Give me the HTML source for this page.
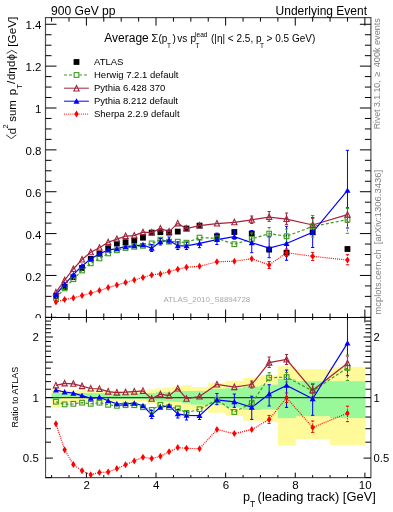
<!DOCTYPE html>
<html><head><meta charset="utf-8"><style>html,body{margin:0;padding:0;background:#fff;}svg{display:block;will-change:transform;}</style></head>
<body><svg width="393" height="512" viewBox="0 0 393 512">
<rect width="393" height="512" fill="#fff"/>
<rect x="51.59" y="388.20" width="9.20" height="19.40" fill="#fffa99"/>
<rect x="60.29" y="390.30" width="9.20" height="12.20" fill="#fffa99"/>
<rect x="69.00" y="390.30" width="9.20" height="12.20" fill="#fffa99"/>
<rect x="77.70" y="390.30" width="9.20" height="12.20" fill="#fffa99"/>
<rect x="86.40" y="390.50" width="9.20" height="11.50" fill="#fffa99"/>
<rect x="95.10" y="390.50" width="9.20" height="11.50" fill="#fffa99"/>
<rect x="103.81" y="390.70" width="9.20" height="10.80" fill="#fffa99"/>
<rect x="112.51" y="390.90" width="9.20" height="10.60" fill="#fffa99"/>
<rect x="121.21" y="390.90" width="9.20" height="10.60" fill="#fffa99"/>
<rect x="129.91" y="390.90" width="9.20" height="10.60" fill="#fffa99"/>
<rect x="138.62" y="390.90" width="9.20" height="10.60" fill="#fffa99"/>
<rect x="147.32" y="389.30" width="9.20" height="14.70" fill="#fffa99"/>
<rect x="156.02" y="388.40" width="9.20" height="16.50" fill="#fffa99"/>
<rect x="164.72" y="387.40" width="9.20" height="18.10" fill="#fffa99"/>
<rect x="173.43" y="386.50" width="9.20" height="22.20" fill="#fffa99"/>
<rect x="182.13" y="385.20" width="9.20" height="24.30" fill="#fffa99"/>
<rect x="190.83" y="387.10" width="17.91" height="23.20" fill="#fffa99"/>
<rect x="208.24" y="382.80" width="17.91" height="29.90" fill="#fffa99"/>
<rect x="225.64" y="380.70" width="17.91" height="35.30" fill="#fffa99"/>
<rect x="243.05" y="378.00" width="17.91" height="42.80" fill="#fffa99"/>
<rect x="260.45" y="375.30" width="17.90" height="46.80" fill="#fffa99"/>
<rect x="277.86" y="366.30" width="17.90" height="79.20" fill="#fffa99"/>
<rect x="295.26" y="369.30" width="35.31" height="69.80" fill="#fffa99"/>
<rect x="330.07" y="366.90" width="35.31" height="78.10" fill="#fffa99"/>
<rect x="51.59" y="392.90" width="9.20" height="6.10" fill="#99f899"/>
<rect x="60.29" y="392.90" width="9.20" height="4.90" fill="#99f899"/>
<rect x="69.00" y="393.00" width="9.20" height="4.80" fill="#99f899"/>
<rect x="77.70" y="393.00" width="9.20" height="4.80" fill="#99f899"/>
<rect x="86.40" y="393.20" width="9.20" height="5.30" fill="#99f899"/>
<rect x="95.10" y="393.20" width="9.20" height="5.30" fill="#99f899"/>
<rect x="103.81" y="393.40" width="9.20" height="5.40" fill="#99f899"/>
<rect x="112.51" y="393.70" width="9.20" height="5.30" fill="#99f899"/>
<rect x="121.21" y="393.70" width="9.20" height="5.30" fill="#99f899"/>
<rect x="129.91" y="393.70" width="9.20" height="5.30" fill="#99f899"/>
<rect x="138.62" y="393.70" width="9.20" height="5.30" fill="#99f899"/>
<rect x="147.32" y="393.10" width="9.20" height="7.40" fill="#99f899"/>
<rect x="156.02" y="392.20" width="9.20" height="8.60" fill="#99f899"/>
<rect x="164.72" y="392.20" width="9.20" height="9.30" fill="#99f899"/>
<rect x="173.43" y="391.20" width="9.20" height="10.80" fill="#99f899"/>
<rect x="182.13" y="391.00" width="9.20" height="12.40" fill="#99f899"/>
<rect x="190.83" y="391.00" width="17.91" height="13.70" fill="#99f899"/>
<rect x="208.24" y="388.70" width="17.91" height="16.00" fill="#99f899"/>
<rect x="225.64" y="388.20" width="17.91" height="19.20" fill="#99f899"/>
<rect x="243.05" y="386.60" width="17.91" height="23.40" fill="#99f899"/>
<rect x="260.45" y="384.70" width="17.90" height="24.80" fill="#99f899"/>
<rect x="277.86" y="379.00" width="17.90" height="39.10" fill="#99f899"/>
<rect x="295.26" y="381.20" width="35.31" height="35.00" fill="#99f899"/>
<rect x="330.07" y="381.20" width="35.31" height="36.90" fill="#99f899"/>
<line x1="45.5" y1="397.55" x2="370.9" y2="397.55" stroke="#000" stroke-opacity="0.7" stroke-width="1.2"/>
<g clip-path="url(#clipT)">
<rect x="53.04" y="293.00" width="5.8" height="5.8" fill="#000"/>
<rect x="61.74" y="284.00" width="5.8" height="5.8" fill="#000"/>
<rect x="70.45" y="274.30" width="5.8" height="5.8" fill="#000"/>
<rect x="79.15" y="265.10" width="5.8" height="5.8" fill="#000"/>
<rect x="87.85" y="256.00" width="5.8" height="5.8" fill="#000"/>
<rect x="96.55" y="250.90" width="5.8" height="5.8" fill="#000"/>
<rect x="105.26" y="245.40" width="5.8" height="5.8" fill="#000"/>
<rect x="113.96" y="240.70" width="5.8" height="5.8" fill="#000"/>
<rect x="122.66" y="239.30" width="5.8" height="5.8" fill="#000"/>
<rect x="131.36" y="237.80" width="5.8" height="5.8" fill="#000"/>
<rect x="140.07" y="234.80" width="5.8" height="5.8" fill="#000"/>
<rect x="148.77" y="229.70" width="5.8" height="5.8" fill="#000"/>
<rect x="157.47" y="229.30" width="5.8" height="5.8" fill="#000"/>
<rect x="166.17" y="229.70" width="5.8" height="5.8" fill="#000"/>
<rect x="174.88" y="228.70" width="5.8" height="5.8" fill="#000"/>
<rect x="183.58" y="225.60" width="5.8" height="5.8" fill="#000"/>
<rect x="196.63" y="222.70" width="5.8" height="5.8" fill="#000"/>
<rect x="214.04" y="233.40" width="5.8" height="5.8" fill="#000"/>
<rect x="231.44" y="229.10" width="5.8" height="5.8" fill="#000"/>
<rect x="248.85" y="230.70" width="5.8" height="5.8" fill="#000"/>
<rect x="266.25" y="246.70" width="5.8" height="5.8" fill="#000"/>
<rect x="283.66" y="249.80" width="5.8" height="5.8" fill="#000"/>
<rect x="309.77" y="229.40" width="5.8" height="5.8" fill="#000"/>
<rect x="344.58" y="246.10" width="5.8" height="5.8" fill="#000"/>
<polyline points="55.94,297.90 64.64,288.40 73.35,279.20 82.05,270.50 90.75,263.30 99.45,258.40 108.16,253.40 116.86,250.30 125.56,248.00 134.26,246.80 142.97,245.80 151.67,243.40 160.37,239.70 169.07,241.70 177.78,241.70 186.48,242.70 199.53,237.60 216.94,238.30 234.34,244.20 251.75,238.90 269.15,233.60 286.56,236.30 312.67,226.40 347.48,219.70" fill="none" stroke="#3d9b1f" stroke-width="1.2" stroke-dasharray="3,2"/>
<polyline points="55.94,292.40 64.64,280.20 73.35,269.00 82.05,259.50 90.75,252.30 99.45,247.70 108.16,242.20 116.86,239.10 125.56,236.10 134.26,235.60 142.97,232.20 151.67,232.60 160.37,228.50 169.07,231.60 177.78,223.40 186.48,228.50 199.53,225.60 216.94,223.60 234.34,222.30 251.75,219.80 269.15,217.10 286.56,219.10 312.67,225.00 347.48,214.70" fill="none" stroke="#a3243b" stroke-width="1.2"/>
<polyline points="55.94,294.50 64.64,284.30 73.35,274.70 82.05,266.00 90.75,258.90 99.45,253.80 108.16,250.10 116.86,248.70 125.56,246.70 134.26,245.80 142.97,244.80 151.67,248.20 160.37,241.70 169.07,240.30 177.78,245.80 186.48,245.80 199.53,243.40 216.94,239.60 234.34,236.60 251.75,242.70 269.15,248.10 286.56,243.50 312.67,232.30 347.48,190.40" fill="none" stroke="#0000ff" stroke-width="1.2"/>
<polyline points="55.94,302.00 64.64,299.60 73.35,297.90 82.05,295.50 90.75,293.10 99.45,290.60 108.16,287.60 116.86,285.10 125.56,282.50 134.26,280.00 142.97,277.40 151.67,274.90 160.37,273.90 169.07,271.70 177.78,269.20 186.48,267.20 199.53,266.30 216.94,261.80 234.34,261.20 251.75,258.80 269.15,264.90 286.56,252.70 312.67,256.30 347.48,260.10" fill="none" stroke="#ff0000" stroke-width="1.2" stroke-dasharray="1.0,1.1"/>
<line x1="151.67" y1="244.5" x2="151.67" y2="251.5" stroke="#0000ff" stroke-width="1.0"/><line x1="150.07" y1="244.5" x2="153.27" y2="244.5" stroke="#0000ff" stroke-width="1.0"/><line x1="150.07" y1="251.5" x2="153.27" y2="251.5" stroke="#0000ff" stroke-width="1.0"/><line x1="160.37" y1="238.5" x2="160.37" y2="245" stroke="#0000ff" stroke-width="1.0"/><line x1="158.77" y1="238.5" x2="161.97" y2="238.5" stroke="#0000ff" stroke-width="1.0"/><line x1="158.77" y1="245" x2="161.97" y2="245" stroke="#0000ff" stroke-width="1.0"/><line x1="169.07" y1="237" x2="169.07" y2="243.5" stroke="#0000ff" stroke-width="1.0"/><line x1="167.47" y1="237" x2="170.67" y2="237" stroke="#0000ff" stroke-width="1.0"/><line x1="167.47" y1="243.5" x2="170.67" y2="243.5" stroke="#0000ff" stroke-width="1.0"/><line x1="177.78" y1="242" x2="177.78" y2="249.5" stroke="#0000ff" stroke-width="1.0"/><line x1="176.18" y1="242" x2="179.38" y2="242" stroke="#0000ff" stroke-width="1.0"/><line x1="176.18" y1="249.5" x2="179.38" y2="249.5" stroke="#0000ff" stroke-width="1.0"/><line x1="186.48" y1="242" x2="186.48" y2="249.5" stroke="#0000ff" stroke-width="1.0"/><line x1="184.88" y1="242" x2="188.08" y2="242" stroke="#0000ff" stroke-width="1.0"/><line x1="184.88" y1="249.5" x2="188.08" y2="249.5" stroke="#0000ff" stroke-width="1.0"/><line x1="199.53" y1="239.7" x2="199.53" y2="247.7" stroke="#0000ff" stroke-width="1.0"/><line x1="197.93" y1="239.7" x2="201.13" y2="239.7" stroke="#0000ff" stroke-width="1.0"/><line x1="197.93" y1="247.7" x2="201.13" y2="247.7" stroke="#0000ff" stroke-width="1.0"/><line x1="216.94" y1="233.1" x2="216.94" y2="244.5" stroke="#0000ff" stroke-width="1.0"/><line x1="215.34" y1="233.1" x2="218.54" y2="233.1" stroke="#0000ff" stroke-width="1.0"/><line x1="215.34" y1="244.5" x2="218.54" y2="244.5" stroke="#0000ff" stroke-width="1.0"/><line x1="234.34" y1="230" x2="234.34" y2="239.2" stroke="#0000ff" stroke-width="1.0"/><line x1="232.74" y1="230" x2="235.94" y2="230" stroke="#0000ff" stroke-width="1.0"/><line x1="232.74" y1="239.2" x2="235.94" y2="239.2" stroke="#0000ff" stroke-width="1.0"/><line x1="251.75" y1="230.5" x2="251.75" y2="252.7" stroke="#0000ff" stroke-width="1.0"/><line x1="250.15" y1="230.5" x2="253.35" y2="230.5" stroke="#0000ff" stroke-width="1.0"/><line x1="250.15" y1="252.7" x2="253.35" y2="252.7" stroke="#0000ff" stroke-width="1.0"/><line x1="269.15" y1="236.6" x2="269.15" y2="257.7" stroke="#0000ff" stroke-width="1.0"/><line x1="267.55" y1="236.6" x2="270.75" y2="236.6" stroke="#0000ff" stroke-width="1.0"/><line x1="267.55" y1="257.7" x2="270.75" y2="257.7" stroke="#0000ff" stroke-width="1.0"/><line x1="286.56" y1="226.3" x2="286.56" y2="260.3" stroke="#0000ff" stroke-width="1.0"/><line x1="284.96" y1="226.3" x2="288.16" y2="226.3" stroke="#0000ff" stroke-width="1.0"/><line x1="284.96" y1="260.3" x2="288.16" y2="260.3" stroke="#0000ff" stroke-width="1.0"/><line x1="312.67" y1="217.6" x2="312.67" y2="247.5" stroke="#0000ff" stroke-width="1.0"/><line x1="311.06" y1="217.6" x2="314.27" y2="217.6" stroke="#0000ff" stroke-width="1.0"/><line x1="311.06" y1="247.5" x2="314.27" y2="247.5" stroke="#0000ff" stroke-width="1.0"/><line x1="347.48" y1="150.3" x2="347.48" y2="228.0" stroke="#0000ff" stroke-width="1.0"/><line x1="345.88" y1="150.3" x2="349.08" y2="150.3" stroke="#0000ff" stroke-width="1.0"/><line x1="345.88" y1="228.0" x2="349.08" y2="228.0" stroke="#0000ff" stroke-width="1.0"/><line x1="251.75" y1="216" x2="251.75" y2="223.5" stroke="#a3243b" stroke-width="1.0"/><line x1="250.15" y1="216" x2="253.35" y2="216" stroke="#a3243b" stroke-width="1.0"/><line x1="250.15" y1="223.5" x2="253.35" y2="223.5" stroke="#a3243b" stroke-width="1.0"/><line x1="269.15" y1="211.5" x2="269.15" y2="221.4" stroke="#a3243b" stroke-width="1.0"/><line x1="267.55" y1="211.5" x2="270.75" y2="211.5" stroke="#a3243b" stroke-width="1.0"/><line x1="267.55" y1="221.4" x2="270.75" y2="221.4" stroke="#a3243b" stroke-width="1.0"/><line x1="286.56" y1="213" x2="286.56" y2="224.4" stroke="#a3243b" stroke-width="1.0"/><line x1="284.96" y1="213" x2="288.16" y2="213" stroke="#a3243b" stroke-width="1.0"/><line x1="284.96" y1="224.4" x2="288.16" y2="224.4" stroke="#a3243b" stroke-width="1.0"/><line x1="312.67" y1="218.2" x2="312.67" y2="231.0" stroke="#a3243b" stroke-width="1.0"/><line x1="311.06" y1="218.2" x2="314.27" y2="218.2" stroke="#a3243b" stroke-width="1.0"/><line x1="311.06" y1="231.0" x2="314.27" y2="231.0" stroke="#a3243b" stroke-width="1.0"/><line x1="347.48" y1="207.5" x2="347.48" y2="222.5" stroke="#a3243b" stroke-width="1.0"/><line x1="345.88" y1="207.5" x2="349.08" y2="207.5" stroke="#a3243b" stroke-width="1.0"/><line x1="345.88" y1="222.5" x2="349.08" y2="222.5" stroke="#a3243b" stroke-width="1.0"/><line x1="251.75" y1="233" x2="251.75" y2="243" stroke="#3d9b1f" stroke-width="1.0" stroke-dasharray="2,1.5"/><line x1="250.15" y1="233" x2="253.35" y2="233" stroke="#3d9b1f" stroke-width="1.0"/><line x1="250.15" y1="243" x2="253.35" y2="243" stroke="#3d9b1f" stroke-width="1.0"/><line x1="269.15" y1="227.5" x2="269.15" y2="237.4" stroke="#3d9b1f" stroke-width="1.0" stroke-dasharray="2,1.5"/><line x1="267.55" y1="227.5" x2="270.75" y2="227.5" stroke="#3d9b1f" stroke-width="1.0"/><line x1="267.55" y1="237.4" x2="270.75" y2="237.4" stroke="#3d9b1f" stroke-width="1.0"/><line x1="286.56" y1="229" x2="286.56" y2="242.7" stroke="#3d9b1f" stroke-width="1.0" stroke-dasharray="2,1.5"/><line x1="284.96" y1="229" x2="288.16" y2="229" stroke="#3d9b1f" stroke-width="1.0"/><line x1="284.96" y1="242.7" x2="288.16" y2="242.7" stroke="#3d9b1f" stroke-width="1.0"/><line x1="312.67" y1="215.5" x2="312.67" y2="237.0" stroke="#3d9b1f" stroke-width="1.0" stroke-dasharray="2,1.5"/><line x1="311.06" y1="215.5" x2="314.27" y2="215.5" stroke="#3d9b1f" stroke-width="1.0"/><line x1="311.06" y1="237.0" x2="314.27" y2="237.0" stroke="#3d9b1f" stroke-width="1.0"/><line x1="347.48" y1="208.5" x2="347.48" y2="233.3" stroke="#3d9b1f" stroke-width="1.0" stroke-dasharray="2,1.5"/><line x1="345.88" y1="208.5" x2="349.08" y2="208.5" stroke="#3d9b1f" stroke-width="1.0"/><line x1="345.88" y1="233.3" x2="349.08" y2="233.3" stroke="#3d9b1f" stroke-width="1.0"/><line x1="269.15" y1="261.5" x2="269.15" y2="268.5" stroke="#ff0000" stroke-width="1.0" stroke-dasharray="1.2,1.2"/><line x1="267.55" y1="261.5" x2="270.75" y2="261.5" stroke="#ff0000" stroke-width="1.0"/><line x1="267.55" y1="268.5" x2="270.75" y2="268.5" stroke="#ff0000" stroke-width="1.0"/><line x1="286.56" y1="249" x2="286.56" y2="256.5" stroke="#ff0000" stroke-width="1.0" stroke-dasharray="1.2,1.2"/><line x1="284.96" y1="249" x2="288.16" y2="249" stroke="#ff0000" stroke-width="1.0"/><line x1="284.96" y1="256.5" x2="288.16" y2="256.5" stroke="#ff0000" stroke-width="1.0"/><line x1="312.67" y1="252.4" x2="312.67" y2="260.5" stroke="#ff0000" stroke-width="1.0" stroke-dasharray="1.2,1.2"/><line x1="311.06" y1="252.4" x2="314.27" y2="252.4" stroke="#ff0000" stroke-width="1.0"/><line x1="311.06" y1="260.5" x2="314.27" y2="260.5" stroke="#ff0000" stroke-width="1.0"/><line x1="347.48" y1="254.7" x2="347.48" y2="264.8" stroke="#ff0000" stroke-width="1.0" stroke-dasharray="1.2,1.2"/><line x1="345.88" y1="254.7" x2="349.08" y2="254.7" stroke="#ff0000" stroke-width="1.0"/><line x1="345.88" y1="264.8" x2="349.08" y2="264.8" stroke="#ff0000" stroke-width="1.0"/>
<rect x="53.59" y="295.55" width="4.7" height="4.7" fill="none" stroke="#3d9b1f" stroke-width="1.1"/>
<path d="M55.94,289.38 L58.59,294.88 L53.29,294.88 Z" fill="none" stroke="#a3243b" stroke-width="1.1"/>
<path d="M55.94,291.53 L58.94,296.93 L52.94,296.93 Z" fill="#0000ff"/>
<path d="M55.94,298.50 L58.14,302.00 L55.94,305.50 L53.74,302.00 Z" fill="#ff0000"/>
<rect x="62.29" y="286.05" width="4.7" height="4.7" fill="none" stroke="#3d9b1f" stroke-width="1.1"/>
<path d="M64.64,277.18 L67.29,282.68 L61.99,282.68 Z" fill="none" stroke="#a3243b" stroke-width="1.1"/>
<path d="M64.64,281.33 L67.64,286.73 L61.64,286.73 Z" fill="#0000ff"/>
<path d="M64.64,296.10 L66.84,299.60 L64.64,303.10 L62.44,299.60 Z" fill="#ff0000"/>
<rect x="71.00" y="276.85" width="4.7" height="4.7" fill="none" stroke="#3d9b1f" stroke-width="1.1"/>
<path d="M73.35,265.98 L76.00,271.48 L70.70,271.48 Z" fill="none" stroke="#a3243b" stroke-width="1.1"/>
<path d="M73.35,271.73 L76.35,277.13 L70.35,277.13 Z" fill="#0000ff"/>
<path d="M73.35,294.40 L75.55,297.90 L73.35,301.40 L71.15,297.90 Z" fill="#ff0000"/>
<rect x="79.70" y="268.15" width="4.7" height="4.7" fill="none" stroke="#3d9b1f" stroke-width="1.1"/>
<path d="M82.05,256.48 L84.70,261.98 L79.40,261.98 Z" fill="none" stroke="#a3243b" stroke-width="1.1"/>
<path d="M82.05,263.03 L85.05,268.43 L79.05,268.43 Z" fill="#0000ff"/>
<path d="M82.05,292.00 L84.25,295.50 L82.05,299.00 L79.85,295.50 Z" fill="#ff0000"/>
<rect x="88.40" y="260.95" width="4.7" height="4.7" fill="none" stroke="#3d9b1f" stroke-width="1.1"/>
<path d="M90.75,249.28 L93.40,254.78 L88.10,254.78 Z" fill="none" stroke="#a3243b" stroke-width="1.1"/>
<path d="M90.75,255.93 L93.75,261.33 L87.75,261.33 Z" fill="#0000ff"/>
<path d="M90.75,289.60 L92.95,293.10 L90.75,296.60 L88.55,293.10 Z" fill="#ff0000"/>
<rect x="97.10" y="256.05" width="4.7" height="4.7" fill="none" stroke="#3d9b1f" stroke-width="1.1"/>
<path d="M99.45,244.67 L102.10,250.17 L96.80,250.17 Z" fill="none" stroke="#a3243b" stroke-width="1.1"/>
<path d="M99.45,250.83 L102.45,256.23 L96.45,256.23 Z" fill="#0000ff"/>
<path d="M99.45,287.10 L101.65,290.60 L99.45,294.10 L97.25,290.60 Z" fill="#ff0000"/>
<rect x="105.81" y="251.05" width="4.7" height="4.7" fill="none" stroke="#3d9b1f" stroke-width="1.1"/>
<path d="M108.16,239.17 L110.81,244.67 L105.51,244.67 Z" fill="none" stroke="#a3243b" stroke-width="1.1"/>
<path d="M108.16,247.13 L111.16,252.53 L105.16,252.53 Z" fill="#0000ff"/>
<path d="M108.16,284.10 L110.36,287.60 L108.16,291.10 L105.96,287.60 Z" fill="#ff0000"/>
<rect x="114.51" y="247.95" width="4.7" height="4.7" fill="none" stroke="#3d9b1f" stroke-width="1.1"/>
<path d="M116.86,236.07 L119.51,241.57 L114.21,241.57 Z" fill="none" stroke="#a3243b" stroke-width="1.1"/>
<path d="M116.86,245.73 L119.86,251.13 L113.86,251.13 Z" fill="#0000ff"/>
<path d="M116.86,281.60 L119.06,285.10 L116.86,288.60 L114.66,285.10 Z" fill="#ff0000"/>
<rect x="123.21" y="245.65" width="4.7" height="4.7" fill="none" stroke="#3d9b1f" stroke-width="1.1"/>
<path d="M125.56,233.07 L128.21,238.57 L122.91,238.57 Z" fill="none" stroke="#a3243b" stroke-width="1.1"/>
<path d="M125.56,243.73 L128.56,249.13 L122.56,249.13 Z" fill="#0000ff"/>
<path d="M125.56,279.00 L127.76,282.50 L125.56,286.00 L123.36,282.50 Z" fill="#ff0000"/>
<rect x="131.91" y="244.45" width="4.7" height="4.7" fill="none" stroke="#3d9b1f" stroke-width="1.1"/>
<path d="M134.26,232.57 L136.91,238.07 L131.61,238.07 Z" fill="none" stroke="#a3243b" stroke-width="1.1"/>
<path d="M134.26,242.83 L137.26,248.23 L131.26,248.23 Z" fill="#0000ff"/>
<path d="M134.26,276.50 L136.46,280.00 L134.26,283.50 L132.06,280.00 Z" fill="#ff0000"/>
<rect x="140.62" y="243.45" width="4.7" height="4.7" fill="none" stroke="#3d9b1f" stroke-width="1.1"/>
<path d="M142.97,229.17 L145.62,234.67 L140.32,234.67 Z" fill="none" stroke="#a3243b" stroke-width="1.1"/>
<path d="M142.97,241.83 L145.97,247.23 L139.97,247.23 Z" fill="#0000ff"/>
<path d="M142.97,273.90 L145.17,277.40 L142.97,280.90 L140.77,277.40 Z" fill="#ff0000"/>
<rect x="149.32" y="241.05" width="4.7" height="4.7" fill="none" stroke="#3d9b1f" stroke-width="1.1"/>
<path d="M151.67,229.57 L154.32,235.07 L149.02,235.07 Z" fill="none" stroke="#a3243b" stroke-width="1.1"/>
<path d="M151.67,245.23 L154.67,250.63 L148.67,250.63 Z" fill="#0000ff"/>
<path d="M151.67,271.40 L153.87,274.90 L151.67,278.40 L149.47,274.90 Z" fill="#ff0000"/>
<rect x="158.02" y="237.35" width="4.7" height="4.7" fill="none" stroke="#3d9b1f" stroke-width="1.1"/>
<path d="M160.37,225.47 L163.02,230.97 L157.72,230.97 Z" fill="none" stroke="#a3243b" stroke-width="1.1"/>
<path d="M160.37,238.73 L163.37,244.13 L157.37,244.13 Z" fill="#0000ff"/>
<path d="M160.37,270.40 L162.57,273.90 L160.37,277.40 L158.17,273.90 Z" fill="#ff0000"/>
<rect x="166.72" y="239.35" width="4.7" height="4.7" fill="none" stroke="#3d9b1f" stroke-width="1.1"/>
<path d="M169.07,228.57 L171.72,234.07 L166.42,234.07 Z" fill="none" stroke="#a3243b" stroke-width="1.1"/>
<path d="M169.07,237.33 L172.07,242.73 L166.07,242.73 Z" fill="#0000ff"/>
<path d="M169.07,268.20 L171.27,271.70 L169.07,275.20 L166.87,271.70 Z" fill="#ff0000"/>
<rect x="175.43" y="239.35" width="4.7" height="4.7" fill="none" stroke="#3d9b1f" stroke-width="1.1"/>
<path d="M177.78,220.38 L180.43,225.88 L175.13,225.88 Z" fill="none" stroke="#a3243b" stroke-width="1.1"/>
<path d="M177.78,242.83 L180.78,248.23 L174.78,248.23 Z" fill="#0000ff"/>
<path d="M177.78,265.70 L179.98,269.20 L177.78,272.70 L175.58,269.20 Z" fill="#ff0000"/>
<rect x="184.13" y="240.35" width="4.7" height="4.7" fill="none" stroke="#3d9b1f" stroke-width="1.1"/>
<path d="M186.48,225.47 L189.13,230.97 L183.83,230.97 Z" fill="none" stroke="#a3243b" stroke-width="1.1"/>
<path d="M186.48,242.83 L189.48,248.23 L183.48,248.23 Z" fill="#0000ff"/>
<path d="M186.48,263.70 L188.68,267.20 L186.48,270.70 L184.28,267.20 Z" fill="#ff0000"/>
<rect x="197.18" y="235.25" width="4.7" height="4.7" fill="none" stroke="#3d9b1f" stroke-width="1.1"/>
<path d="M199.53,222.57 L202.18,228.07 L196.88,228.07 Z" fill="none" stroke="#a3243b" stroke-width="1.1"/>
<path d="M199.53,240.43 L202.53,245.83 L196.53,245.83 Z" fill="#0000ff"/>
<path d="M199.53,262.80 L201.73,266.30 L199.53,269.80 L197.33,266.30 Z" fill="#ff0000"/>
<rect x="214.59" y="235.95" width="4.7" height="4.7" fill="none" stroke="#3d9b1f" stroke-width="1.1"/>
<path d="M216.94,220.57 L219.59,226.07 L214.29,226.07 Z" fill="none" stroke="#a3243b" stroke-width="1.1"/>
<path d="M216.94,236.63 L219.94,242.03 L213.94,242.03 Z" fill="#0000ff"/>
<path d="M216.94,258.30 L219.14,261.80 L216.94,265.30 L214.74,261.80 Z" fill="#ff0000"/>
<rect x="231.99" y="241.85" width="4.7" height="4.7" fill="none" stroke="#3d9b1f" stroke-width="1.1"/>
<path d="M234.34,219.28 L236.99,224.78 L231.69,224.78 Z" fill="none" stroke="#a3243b" stroke-width="1.1"/>
<path d="M234.34,233.63 L237.34,239.03 L231.34,239.03 Z" fill="#0000ff"/>
<path d="M234.34,257.70 L236.54,261.20 L234.34,264.70 L232.14,261.20 Z" fill="#ff0000"/>
<rect x="249.40" y="236.55" width="4.7" height="4.7" fill="none" stroke="#3d9b1f" stroke-width="1.1"/>
<path d="M251.75,216.78 L254.40,222.28 L249.10,222.28 Z" fill="none" stroke="#a3243b" stroke-width="1.1"/>
<path d="M251.75,239.73 L254.75,245.13 L248.75,245.13 Z" fill="#0000ff"/>
<path d="M251.75,255.30 L253.95,258.80 L251.75,262.30 L249.55,258.80 Z" fill="#ff0000"/>
<rect x="266.80" y="231.25" width="4.7" height="4.7" fill="none" stroke="#3d9b1f" stroke-width="1.1"/>
<path d="M269.15,214.07 L271.80,219.57 L266.50,219.57 Z" fill="none" stroke="#a3243b" stroke-width="1.1"/>
<path d="M269.15,245.13 L272.15,250.53 L266.15,250.53 Z" fill="#0000ff"/>
<path d="M269.15,261.40 L271.35,264.90 L269.15,268.40 L266.95,264.90 Z" fill="#ff0000"/>
<rect x="284.21" y="233.95" width="4.7" height="4.7" fill="none" stroke="#3d9b1f" stroke-width="1.1"/>
<path d="M286.56,216.07 L289.21,221.57 L283.91,221.57 Z" fill="none" stroke="#a3243b" stroke-width="1.1"/>
<path d="M286.56,240.53 L289.56,245.93 L283.56,245.93 Z" fill="#0000ff"/>
<path d="M286.56,249.20 L288.76,252.70 L286.56,256.20 L284.36,252.70 Z" fill="#ff0000"/>
<rect x="310.31" y="224.05" width="4.7" height="4.7" fill="none" stroke="#3d9b1f" stroke-width="1.1"/>
<path d="M312.67,221.97 L315.31,227.47 L310.02,227.47 Z" fill="none" stroke="#a3243b" stroke-width="1.1"/>
<path d="M312.67,229.33 L315.67,234.73 L309.67,234.73 Z" fill="#0000ff"/>
<path d="M312.67,252.80 L314.87,256.30 L312.67,259.80 L310.47,256.30 Z" fill="#ff0000"/>
<rect x="345.12" y="217.35" width="4.7" height="4.7" fill="none" stroke="#3d9b1f" stroke-width="1.1"/>
<path d="M347.48,211.67 L350.12,217.17 L344.83,217.17 Z" fill="none" stroke="#a3243b" stroke-width="1.1"/>
<path d="M347.48,187.43 L350.48,192.83 L344.48,192.83 Z" fill="#0000ff"/>
<path d="M347.48,256.60 L349.68,260.10 L347.48,263.60 L345.28,260.10 Z" fill="#ff0000"/>
</g>
<g clip-path="url(#clipR)">
<polyline points="55.94,401.70 64.64,404.40 73.35,403.80 82.05,402.70 90.75,403.80 99.45,402.70 108.16,404.80 116.86,405.80 125.56,405.20 134.26,405.20 142.97,407.20 151.67,409.90 160.37,404.80 169.07,407.20 177.78,408.40 186.48,412.90 199.53,409.20 216.94,399.80 234.34,412.00 251.75,403.10 269.15,377.70 286.56,377.10 312.67,391.00 347.48,367.80" fill="none" stroke="#3d9b1f" stroke-width="1.2" stroke-dasharray="3,2"/>
<polyline points="55.94,385.40 64.64,383.40 73.35,383.80 82.05,386.10 90.75,388.50 99.45,388.90 108.16,391.60 116.86,392.60 125.56,392.20 134.26,391.60 142.97,390.90 151.67,398.70 160.37,394.20 169.07,395.60 177.78,388.50 186.48,398.70 199.53,396.50 216.94,384.50 234.34,387.10 251.75,384.50 269.15,362.60 286.56,359.50 312.67,390.30 347.48,363.20" fill="none" stroke="#a3243b" stroke-width="1.2"/>
<polyline points="55.94,390.10 64.64,392.00 73.35,393.20 82.05,395.60 90.75,398.30 99.45,397.30 108.16,400.70 116.86,403.80 125.56,403.80 134.26,403.20 142.97,405.80 151.67,414.60 160.37,407.20 169.07,405.80 177.78,413.90 186.48,415.40 199.53,415.60 216.94,399.80 234.34,401.80 251.75,407.40 269.15,394.00 286.56,385.40 312.67,398.70 347.48,343.10" fill="none" stroke="#0000ff" stroke-width="1.2"/>
<polyline points="55.94,423.80 64.64,449.70 73.35,464.60 82.05,470.70 90.75,474.70 99.45,472.50 108.16,472.10 116.86,468.60 125.56,464.80 134.26,460.90 142.97,457.20 151.67,458.60 160.37,456.30 169.07,451.70 177.78,447.60 186.48,448.30 199.53,448.70 216.94,429.60 234.34,433.60 251.75,429.60 269.15,419.40 286.56,397.80 312.67,427.40 347.48,413.20" fill="none" stroke="#ff0000" stroke-width="1.2" stroke-dasharray="1.0,1.1"/>
<line x1="151.67" y1="410.5" x2="151.67" y2="418.5" stroke="#0000ff" stroke-width="1.0"/><line x1="150.07" y1="410.5" x2="153.27" y2="410.5" stroke="#0000ff" stroke-width="1.0"/><line x1="150.07" y1="418.5" x2="153.27" y2="418.5" stroke="#0000ff" stroke-width="1.0"/><line x1="177.78" y1="409.5" x2="177.78" y2="418" stroke="#0000ff" stroke-width="1.0"/><line x1="176.18" y1="409.5" x2="179.38" y2="409.5" stroke="#0000ff" stroke-width="1.0"/><line x1="176.18" y1="418" x2="179.38" y2="418" stroke="#0000ff" stroke-width="1.0"/><line x1="186.48" y1="411" x2="186.48" y2="420" stroke="#0000ff" stroke-width="1.0"/><line x1="184.88" y1="411" x2="188.08" y2="411" stroke="#0000ff" stroke-width="1.0"/><line x1="184.88" y1="420" x2="188.08" y2="420" stroke="#0000ff" stroke-width="1.0"/><line x1="199.53" y1="411.5" x2="199.53" y2="419.5" stroke="#0000ff" stroke-width="1.0"/><line x1="197.93" y1="411.5" x2="201.13" y2="411.5" stroke="#0000ff" stroke-width="1.0"/><line x1="197.93" y1="419.5" x2="201.13" y2="419.5" stroke="#0000ff" stroke-width="1.0"/><line x1="216.94" y1="393.5" x2="216.94" y2="404.7" stroke="#0000ff" stroke-width="1.0"/><line x1="215.34" y1="393.5" x2="218.54" y2="393.5" stroke="#0000ff" stroke-width="1.0"/><line x1="215.34" y1="404.7" x2="218.54" y2="404.7" stroke="#0000ff" stroke-width="1.0"/><line x1="234.34" y1="394.0" x2="234.34" y2="407.4" stroke="#0000ff" stroke-width="1.0"/><line x1="232.74" y1="394.0" x2="235.94" y2="394.0" stroke="#0000ff" stroke-width="1.0"/><line x1="232.74" y1="407.4" x2="235.94" y2="407.4" stroke="#0000ff" stroke-width="1.0"/><line x1="251.75" y1="396.2" x2="251.75" y2="419.4" stroke="#0000ff" stroke-width="1.0"/><line x1="250.15" y1="396.2" x2="253.35" y2="396.2" stroke="#0000ff" stroke-width="1.0"/><line x1="250.15" y1="419.4" x2="253.35" y2="419.4" stroke="#0000ff" stroke-width="1.0"/><line x1="269.15" y1="384.7" x2="269.15" y2="406.0" stroke="#0000ff" stroke-width="1.0"/><line x1="267.55" y1="384.7" x2="270.75" y2="384.7" stroke="#0000ff" stroke-width="1.0"/><line x1="267.55" y1="406.0" x2="270.75" y2="406.0" stroke="#0000ff" stroke-width="1.0"/><line x1="286.56" y1="370.0" x2="286.56" y2="407.4" stroke="#0000ff" stroke-width="1.0"/><line x1="284.96" y1="370.0" x2="288.16" y2="370.0" stroke="#0000ff" stroke-width="1.0"/><line x1="284.96" y1="407.4" x2="288.16" y2="407.4" stroke="#0000ff" stroke-width="1.0"/><line x1="312.67" y1="384.3" x2="312.67" y2="415.3" stroke="#0000ff" stroke-width="1.0"/><line x1="311.06" y1="384.3" x2="314.27" y2="384.3" stroke="#0000ff" stroke-width="1.0"/><line x1="311.06" y1="415.3" x2="314.27" y2="415.3" stroke="#0000ff" stroke-width="1.0"/><line x1="347.48" y1="300.0" x2="347.48" y2="375.7" stroke="#0000ff" stroke-width="1.0"/><line x1="345.88" y1="300.0" x2="349.08" y2="300.0" stroke="#0000ff" stroke-width="1.0"/><line x1="345.88" y1="375.7" x2="349.08" y2="375.7" stroke="#0000ff" stroke-width="1.0"/><line x1="251.75" y1="381" x2="251.75" y2="388" stroke="#a3243b" stroke-width="1.0"/><line x1="250.15" y1="381" x2="253.35" y2="381" stroke="#a3243b" stroke-width="1.0"/><line x1="250.15" y1="388" x2="253.35" y2="388" stroke="#a3243b" stroke-width="1.0"/><line x1="269.15" y1="357" x2="269.15" y2="367.5" stroke="#a3243b" stroke-width="1.0"/><line x1="267.55" y1="357" x2="270.75" y2="357" stroke="#a3243b" stroke-width="1.0"/><line x1="267.55" y1="367.5" x2="270.75" y2="367.5" stroke="#a3243b" stroke-width="1.0"/><line x1="286.56" y1="354.5" x2="286.56" y2="364.5" stroke="#a3243b" stroke-width="1.0"/><line x1="284.96" y1="354.5" x2="288.16" y2="354.5" stroke="#a3243b" stroke-width="1.0"/><line x1="284.96" y1="364.5" x2="288.16" y2="364.5" stroke="#a3243b" stroke-width="1.0"/><line x1="312.67" y1="383.5" x2="312.67" y2="397" stroke="#a3243b" stroke-width="1.0"/><line x1="311.06" y1="383.5" x2="314.27" y2="383.5" stroke="#a3243b" stroke-width="1.0"/><line x1="311.06" y1="397" x2="314.27" y2="397" stroke="#a3243b" stroke-width="1.0"/><line x1="347.48" y1="356.1" x2="347.48" y2="370" stroke="#a3243b" stroke-width="1.0"/><line x1="345.88" y1="356.1" x2="349.08" y2="356.1" stroke="#a3243b" stroke-width="1.0"/><line x1="345.88" y1="370" x2="349.08" y2="370" stroke="#a3243b" stroke-width="1.0"/><line x1="269.15" y1="372.7" x2="269.15" y2="380.7" stroke="#3d9b1f" stroke-width="1.0" stroke-dasharray="2,1.5"/><line x1="267.55" y1="372.7" x2="270.75" y2="372.7" stroke="#3d9b1f" stroke-width="1.0"/><line x1="267.55" y1="380.7" x2="270.75" y2="380.7" stroke="#3d9b1f" stroke-width="1.0"/><line x1="286.56" y1="372.5" x2="286.56" y2="382" stroke="#3d9b1f" stroke-width="1.0" stroke-dasharray="2,1.5"/><line x1="284.96" y1="372.5" x2="288.16" y2="372.5" stroke="#3d9b1f" stroke-width="1.0"/><line x1="284.96" y1="382" x2="288.16" y2="382" stroke="#3d9b1f" stroke-width="1.0"/><line x1="312.67" y1="383.5" x2="312.67" y2="398" stroke="#3d9b1f" stroke-width="1.0" stroke-dasharray="2,1.5"/><line x1="311.06" y1="383.5" x2="314.27" y2="383.5" stroke="#3d9b1f" stroke-width="1.0"/><line x1="311.06" y1="398" x2="314.27" y2="398" stroke="#3d9b1f" stroke-width="1.0"/><line x1="347.48" y1="355" x2="347.48" y2="380.5" stroke="#3d9b1f" stroke-width="1.0" stroke-dasharray="2,1.5"/><line x1="345.88" y1="355" x2="349.08" y2="355" stroke="#3d9b1f" stroke-width="1.0"/><line x1="345.88" y1="380.5" x2="349.08" y2="380.5" stroke="#3d9b1f" stroke-width="1.0"/><line x1="269.15" y1="415.4" x2="269.15" y2="423.4" stroke="#ff0000" stroke-width="1.0" stroke-dasharray="1.2,1.2"/><line x1="267.55" y1="415.4" x2="270.75" y2="415.4" stroke="#ff0000" stroke-width="1.0"/><line x1="267.55" y1="423.4" x2="270.75" y2="423.4" stroke="#ff0000" stroke-width="1.0"/><line x1="286.56" y1="393" x2="286.56" y2="402.5" stroke="#ff0000" stroke-width="1.0" stroke-dasharray="1.2,1.2"/><line x1="284.96" y1="393" x2="288.16" y2="393" stroke="#ff0000" stroke-width="1.0"/><line x1="284.96" y1="402.5" x2="288.16" y2="402.5" stroke="#ff0000" stroke-width="1.0"/><line x1="312.67" y1="421.0" x2="312.67" y2="432.4" stroke="#ff0000" stroke-width="1.0" stroke-dasharray="1.2,1.2"/><line x1="311.06" y1="421.0" x2="314.27" y2="421.0" stroke="#ff0000" stroke-width="1.0"/><line x1="311.06" y1="432.4" x2="314.27" y2="432.4" stroke="#ff0000" stroke-width="1.0"/><line x1="347.48" y1="406.2" x2="347.48" y2="421.7" stroke="#ff0000" stroke-width="1.0" stroke-dasharray="1.2,1.2"/><line x1="345.88" y1="406.2" x2="349.08" y2="406.2" stroke="#ff0000" stroke-width="1.0"/><line x1="345.88" y1="421.7" x2="349.08" y2="421.7" stroke="#ff0000" stroke-width="1.0"/>
<rect x="53.59" y="399.35" width="4.7" height="4.7" fill="none" stroke="#3d9b1f" stroke-width="1.1"/>
<path d="M55.94,382.38 L58.59,387.88 L53.29,387.88 Z" fill="none" stroke="#a3243b" stroke-width="1.1"/>
<path d="M55.94,387.13 L58.94,392.53 L52.94,392.53 Z" fill="#0000ff"/>
<path d="M55.94,420.30 L58.14,423.80 L55.94,427.30 L53.74,423.80 Z" fill="#ff0000"/>
<rect x="62.29" y="402.05" width="4.7" height="4.7" fill="none" stroke="#3d9b1f" stroke-width="1.1"/>
<path d="M64.64,380.38 L67.29,385.88 L61.99,385.88 Z" fill="none" stroke="#a3243b" stroke-width="1.1"/>
<path d="M64.64,389.03 L67.64,394.43 L61.64,394.43 Z" fill="#0000ff"/>
<path d="M64.64,446.20 L66.84,449.70 L64.64,453.20 L62.44,449.70 Z" fill="#ff0000"/>
<rect x="71.00" y="401.45" width="4.7" height="4.7" fill="none" stroke="#3d9b1f" stroke-width="1.1"/>
<path d="M73.35,380.78 L76.00,386.28 L70.70,386.28 Z" fill="none" stroke="#a3243b" stroke-width="1.1"/>
<path d="M73.35,390.23 L76.35,395.63 L70.35,395.63 Z" fill="#0000ff"/>
<path d="M73.35,461.10 L75.55,464.60 L73.35,468.10 L71.15,464.60 Z" fill="#ff0000"/>
<rect x="79.70" y="400.35" width="4.7" height="4.7" fill="none" stroke="#3d9b1f" stroke-width="1.1"/>
<path d="M82.05,383.08 L84.70,388.58 L79.40,388.58 Z" fill="none" stroke="#a3243b" stroke-width="1.1"/>
<path d="M82.05,392.63 L85.05,398.03 L79.05,398.03 Z" fill="#0000ff"/>
<path d="M82.05,467.20 L84.25,470.70 L82.05,474.20 L79.85,470.70 Z" fill="#ff0000"/>
<rect x="88.40" y="401.45" width="4.7" height="4.7" fill="none" stroke="#3d9b1f" stroke-width="1.1"/>
<path d="M90.75,385.48 L93.40,390.98 L88.10,390.98 Z" fill="none" stroke="#a3243b" stroke-width="1.1"/>
<path d="M90.75,395.33 L93.75,400.73 L87.75,400.73 Z" fill="#0000ff"/>
<path d="M90.75,471.20 L92.95,474.70 L90.75,478.20 L88.55,474.70 Z" fill="#ff0000"/>
<rect x="97.10" y="400.35" width="4.7" height="4.7" fill="none" stroke="#3d9b1f" stroke-width="1.1"/>
<path d="M99.45,385.88 L102.10,391.38 L96.80,391.38 Z" fill="none" stroke="#a3243b" stroke-width="1.1"/>
<path d="M99.45,394.33 L102.45,399.73 L96.45,399.73 Z" fill="#0000ff"/>
<path d="M99.45,469.00 L101.65,472.50 L99.45,476.00 L97.25,472.50 Z" fill="#ff0000"/>
<rect x="105.81" y="402.45" width="4.7" height="4.7" fill="none" stroke="#3d9b1f" stroke-width="1.1"/>
<path d="M108.16,388.58 L110.81,394.08 L105.51,394.08 Z" fill="none" stroke="#a3243b" stroke-width="1.1"/>
<path d="M108.16,397.73 L111.16,403.13 L105.16,403.13 Z" fill="#0000ff"/>
<path d="M108.16,468.60 L110.36,472.10 L108.16,475.60 L105.96,472.10 Z" fill="#ff0000"/>
<rect x="114.51" y="403.45" width="4.7" height="4.7" fill="none" stroke="#3d9b1f" stroke-width="1.1"/>
<path d="M116.86,389.58 L119.51,395.08 L114.21,395.08 Z" fill="none" stroke="#a3243b" stroke-width="1.1"/>
<path d="M116.86,400.83 L119.86,406.23 L113.86,406.23 Z" fill="#0000ff"/>
<path d="M116.86,465.10 L119.06,468.60 L116.86,472.10 L114.66,468.60 Z" fill="#ff0000"/>
<rect x="123.21" y="402.85" width="4.7" height="4.7" fill="none" stroke="#3d9b1f" stroke-width="1.1"/>
<path d="M125.56,389.18 L128.21,394.68 L122.91,394.68 Z" fill="none" stroke="#a3243b" stroke-width="1.1"/>
<path d="M125.56,400.83 L128.56,406.23 L122.56,406.23 Z" fill="#0000ff"/>
<path d="M125.56,461.30 L127.76,464.80 L125.56,468.30 L123.36,464.80 Z" fill="#ff0000"/>
<rect x="131.91" y="402.85" width="4.7" height="4.7" fill="none" stroke="#3d9b1f" stroke-width="1.1"/>
<path d="M134.26,388.58 L136.91,394.08 L131.61,394.08 Z" fill="none" stroke="#a3243b" stroke-width="1.1"/>
<path d="M134.26,400.23 L137.26,405.63 L131.26,405.63 Z" fill="#0000ff"/>
<path d="M134.26,457.40 L136.46,460.90 L134.26,464.40 L132.06,460.90 Z" fill="#ff0000"/>
<rect x="140.62" y="404.85" width="4.7" height="4.7" fill="none" stroke="#3d9b1f" stroke-width="1.1"/>
<path d="M142.97,387.88 L145.62,393.38 L140.32,393.38 Z" fill="none" stroke="#a3243b" stroke-width="1.1"/>
<path d="M142.97,402.83 L145.97,408.23 L139.97,408.23 Z" fill="#0000ff"/>
<path d="M142.97,453.70 L145.17,457.20 L142.97,460.70 L140.77,457.20 Z" fill="#ff0000"/>
<rect x="149.32" y="407.55" width="4.7" height="4.7" fill="none" stroke="#3d9b1f" stroke-width="1.1"/>
<path d="M151.67,395.68 L154.32,401.18 L149.02,401.18 Z" fill="none" stroke="#a3243b" stroke-width="1.1"/>
<path d="M151.67,411.63 L154.67,417.03 L148.67,417.03 Z" fill="#0000ff"/>
<path d="M151.67,455.10 L153.87,458.60 L151.67,462.10 L149.47,458.60 Z" fill="#ff0000"/>
<rect x="158.02" y="402.45" width="4.7" height="4.7" fill="none" stroke="#3d9b1f" stroke-width="1.1"/>
<path d="M160.37,391.18 L163.02,396.68 L157.72,396.68 Z" fill="none" stroke="#a3243b" stroke-width="1.1"/>
<path d="M160.37,404.23 L163.37,409.63 L157.37,409.63 Z" fill="#0000ff"/>
<path d="M160.37,452.80 L162.57,456.30 L160.37,459.80 L158.17,456.30 Z" fill="#ff0000"/>
<rect x="166.72" y="404.85" width="4.7" height="4.7" fill="none" stroke="#3d9b1f" stroke-width="1.1"/>
<path d="M169.07,392.58 L171.72,398.08 L166.42,398.08 Z" fill="none" stroke="#a3243b" stroke-width="1.1"/>
<path d="M169.07,402.83 L172.07,408.23 L166.07,408.23 Z" fill="#0000ff"/>
<path d="M169.07,448.20 L171.27,451.70 L169.07,455.20 L166.87,451.70 Z" fill="#ff0000"/>
<rect x="175.43" y="406.05" width="4.7" height="4.7" fill="none" stroke="#3d9b1f" stroke-width="1.1"/>
<path d="M177.78,385.48 L180.43,390.98 L175.13,390.98 Z" fill="none" stroke="#a3243b" stroke-width="1.1"/>
<path d="M177.78,410.93 L180.78,416.33 L174.78,416.33 Z" fill="#0000ff"/>
<path d="M177.78,444.10 L179.98,447.60 L177.78,451.10 L175.58,447.60 Z" fill="#ff0000"/>
<rect x="184.13" y="410.55" width="4.7" height="4.7" fill="none" stroke="#3d9b1f" stroke-width="1.1"/>
<path d="M186.48,395.68 L189.13,401.18 L183.83,401.18 Z" fill="none" stroke="#a3243b" stroke-width="1.1"/>
<path d="M186.48,412.43 L189.48,417.83 L183.48,417.83 Z" fill="#0000ff"/>
<path d="M186.48,444.80 L188.68,448.30 L186.48,451.80 L184.28,448.30 Z" fill="#ff0000"/>
<rect x="197.18" y="406.85" width="4.7" height="4.7" fill="none" stroke="#3d9b1f" stroke-width="1.1"/>
<path d="M199.53,393.48 L202.18,398.98 L196.88,398.98 Z" fill="none" stroke="#a3243b" stroke-width="1.1"/>
<path d="M199.53,412.63 L202.53,418.03 L196.53,418.03 Z" fill="#0000ff"/>
<path d="M199.53,445.20 L201.73,448.70 L199.53,452.20 L197.33,448.70 Z" fill="#ff0000"/>
<rect x="214.59" y="397.45" width="4.7" height="4.7" fill="none" stroke="#3d9b1f" stroke-width="1.1"/>
<path d="M216.94,381.48 L219.59,386.98 L214.29,386.98 Z" fill="none" stroke="#a3243b" stroke-width="1.1"/>
<path d="M216.94,396.83 L219.94,402.23 L213.94,402.23 Z" fill="#0000ff"/>
<path d="M216.94,426.10 L219.14,429.60 L216.94,433.10 L214.74,429.60 Z" fill="#ff0000"/>
<rect x="231.99" y="409.65" width="4.7" height="4.7" fill="none" stroke="#3d9b1f" stroke-width="1.1"/>
<path d="M234.34,384.08 L236.99,389.58 L231.69,389.58 Z" fill="none" stroke="#a3243b" stroke-width="1.1"/>
<path d="M234.34,398.83 L237.34,404.23 L231.34,404.23 Z" fill="#0000ff"/>
<path d="M234.34,430.10 L236.54,433.60 L234.34,437.10 L232.14,433.60 Z" fill="#ff0000"/>
<rect x="249.40" y="400.75" width="4.7" height="4.7" fill="none" stroke="#3d9b1f" stroke-width="1.1"/>
<path d="M251.75,381.48 L254.40,386.98 L249.10,386.98 Z" fill="none" stroke="#a3243b" stroke-width="1.1"/>
<path d="M251.75,404.43 L254.75,409.83 L248.75,409.83 Z" fill="#0000ff"/>
<path d="M251.75,426.10 L253.95,429.60 L251.75,433.10 L249.55,429.60 Z" fill="#ff0000"/>
<rect x="266.80" y="375.35" width="4.7" height="4.7" fill="none" stroke="#3d9b1f" stroke-width="1.1"/>
<path d="M269.15,359.58 L271.80,365.08 L266.50,365.08 Z" fill="none" stroke="#a3243b" stroke-width="1.1"/>
<path d="M269.15,391.03 L272.15,396.43 L266.15,396.43 Z" fill="#0000ff"/>
<path d="M269.15,415.90 L271.35,419.40 L269.15,422.90 L266.95,419.40 Z" fill="#ff0000"/>
<rect x="284.21" y="374.75" width="4.7" height="4.7" fill="none" stroke="#3d9b1f" stroke-width="1.1"/>
<path d="M286.56,356.48 L289.21,361.98 L283.91,361.98 Z" fill="none" stroke="#a3243b" stroke-width="1.1"/>
<path d="M286.56,382.43 L289.56,387.83 L283.56,387.83 Z" fill="#0000ff"/>
<path d="M286.56,394.30 L288.76,397.80 L286.56,401.30 L284.36,397.80 Z" fill="#ff0000"/>
<rect x="310.31" y="388.65" width="4.7" height="4.7" fill="none" stroke="#3d9b1f" stroke-width="1.1"/>
<path d="M312.67,387.28 L315.31,392.78 L310.02,392.78 Z" fill="none" stroke="#a3243b" stroke-width="1.1"/>
<path d="M312.67,395.73 L315.67,401.13 L309.67,401.13 Z" fill="#0000ff"/>
<path d="M312.67,423.90 L314.87,427.40 L312.67,430.90 L310.47,427.40 Z" fill="#ff0000"/>
<rect x="345.12" y="365.45" width="4.7" height="4.7" fill="none" stroke="#3d9b1f" stroke-width="1.1"/>
<path d="M347.48,360.18 L350.12,365.68 L344.83,365.68 Z" fill="none" stroke="#a3243b" stroke-width="1.1"/>
<path d="M347.48,340.13 L350.48,345.53 L344.48,345.53 Z" fill="#0000ff"/>
<path d="M347.48,409.70 L349.68,413.20 L347.48,416.70 L345.28,413.20 Z" fill="#ff0000"/>
</g>
<rect x="45.5" y="17.6" width="325.4" height="460.0" fill="none" stroke="#000" stroke-opacity="0.7" stroke-width="1.2"/>
<line x1="45.50" y1="317.50" x2="370.90" y2="317.50" stroke="#000" stroke-width="1.2"/>
<line x1="51.59" y1="17.60" x2="51.59" y2="21.60" stroke="#000" stroke-width="1.0"/>
<line x1="51.59" y1="317.50" x2="51.59" y2="313.50" stroke="#000" stroke-width="1.0"/>
<line x1="51.59" y1="317.50" x2="51.59" y2="320.00" stroke="#000" stroke-width="1.0"/>
<line x1="51.59" y1="477.60" x2="51.59" y2="475.10" stroke="#000" stroke-width="1.0"/>
<line x1="69.00" y1="17.60" x2="69.00" y2="21.60" stroke="#000" stroke-width="1.0"/>
<line x1="69.00" y1="317.50" x2="69.00" y2="313.50" stroke="#000" stroke-width="1.0"/>
<line x1="69.00" y1="317.50" x2="69.00" y2="320.00" stroke="#000" stroke-width="1.0"/>
<line x1="69.00" y1="477.60" x2="69.00" y2="475.10" stroke="#000" stroke-width="1.0"/>
<line x1="86.40" y1="17.60" x2="86.40" y2="25.60" stroke="#000" stroke-width="1.0"/>
<line x1="86.40" y1="317.50" x2="86.40" y2="309.50" stroke="#000" stroke-width="1.0"/>
<line x1="86.40" y1="317.50" x2="86.40" y2="322.50" stroke="#000" stroke-width="1.0"/>
<line x1="86.40" y1="477.60" x2="86.40" y2="472.60" stroke="#000" stroke-width="1.0"/>
<line x1="103.81" y1="17.60" x2="103.81" y2="21.60" stroke="#000" stroke-width="1.0"/>
<line x1="103.81" y1="317.50" x2="103.81" y2="313.50" stroke="#000" stroke-width="1.0"/>
<line x1="103.81" y1="317.50" x2="103.81" y2="320.00" stroke="#000" stroke-width="1.0"/>
<line x1="103.81" y1="477.60" x2="103.81" y2="475.10" stroke="#000" stroke-width="1.0"/>
<line x1="121.21" y1="17.60" x2="121.21" y2="21.60" stroke="#000" stroke-width="1.0"/>
<line x1="121.21" y1="317.50" x2="121.21" y2="313.50" stroke="#000" stroke-width="1.0"/>
<line x1="121.21" y1="317.50" x2="121.21" y2="320.00" stroke="#000" stroke-width="1.0"/>
<line x1="121.21" y1="477.60" x2="121.21" y2="475.10" stroke="#000" stroke-width="1.0"/>
<line x1="138.62" y1="17.60" x2="138.62" y2="21.60" stroke="#000" stroke-width="1.0"/>
<line x1="138.62" y1="317.50" x2="138.62" y2="313.50" stroke="#000" stroke-width="1.0"/>
<line x1="138.62" y1="317.50" x2="138.62" y2="320.00" stroke="#000" stroke-width="1.0"/>
<line x1="138.62" y1="477.60" x2="138.62" y2="475.10" stroke="#000" stroke-width="1.0"/>
<line x1="156.02" y1="17.60" x2="156.02" y2="25.60" stroke="#000" stroke-width="1.0"/>
<line x1="156.02" y1="317.50" x2="156.02" y2="309.50" stroke="#000" stroke-width="1.0"/>
<line x1="156.02" y1="317.50" x2="156.02" y2="322.50" stroke="#000" stroke-width="1.0"/>
<line x1="156.02" y1="477.60" x2="156.02" y2="472.60" stroke="#000" stroke-width="1.0"/>
<line x1="173.43" y1="17.60" x2="173.43" y2="21.60" stroke="#000" stroke-width="1.0"/>
<line x1="173.43" y1="317.50" x2="173.43" y2="313.50" stroke="#000" stroke-width="1.0"/>
<line x1="173.43" y1="317.50" x2="173.43" y2="320.00" stroke="#000" stroke-width="1.0"/>
<line x1="173.43" y1="477.60" x2="173.43" y2="475.10" stroke="#000" stroke-width="1.0"/>
<line x1="190.83" y1="17.60" x2="190.83" y2="21.60" stroke="#000" stroke-width="1.0"/>
<line x1="190.83" y1="317.50" x2="190.83" y2="313.50" stroke="#000" stroke-width="1.0"/>
<line x1="190.83" y1="317.50" x2="190.83" y2="320.00" stroke="#000" stroke-width="1.0"/>
<line x1="190.83" y1="477.60" x2="190.83" y2="475.10" stroke="#000" stroke-width="1.0"/>
<line x1="208.24" y1="17.60" x2="208.24" y2="21.60" stroke="#000" stroke-width="1.0"/>
<line x1="208.24" y1="317.50" x2="208.24" y2="313.50" stroke="#000" stroke-width="1.0"/>
<line x1="208.24" y1="317.50" x2="208.24" y2="320.00" stroke="#000" stroke-width="1.0"/>
<line x1="208.24" y1="477.60" x2="208.24" y2="475.10" stroke="#000" stroke-width="1.0"/>
<line x1="225.64" y1="17.60" x2="225.64" y2="25.60" stroke="#000" stroke-width="1.0"/>
<line x1="225.64" y1="317.50" x2="225.64" y2="309.50" stroke="#000" stroke-width="1.0"/>
<line x1="225.64" y1="317.50" x2="225.64" y2="322.50" stroke="#000" stroke-width="1.0"/>
<line x1="225.64" y1="477.60" x2="225.64" y2="472.60" stroke="#000" stroke-width="1.0"/>
<line x1="243.05" y1="17.60" x2="243.05" y2="21.60" stroke="#000" stroke-width="1.0"/>
<line x1="243.05" y1="317.50" x2="243.05" y2="313.50" stroke="#000" stroke-width="1.0"/>
<line x1="243.05" y1="317.50" x2="243.05" y2="320.00" stroke="#000" stroke-width="1.0"/>
<line x1="243.05" y1="477.60" x2="243.05" y2="475.10" stroke="#000" stroke-width="1.0"/>
<line x1="260.45" y1="17.60" x2="260.45" y2="21.60" stroke="#000" stroke-width="1.0"/>
<line x1="260.45" y1="317.50" x2="260.45" y2="313.50" stroke="#000" stroke-width="1.0"/>
<line x1="260.45" y1="317.50" x2="260.45" y2="320.00" stroke="#000" stroke-width="1.0"/>
<line x1="260.45" y1="477.60" x2="260.45" y2="475.10" stroke="#000" stroke-width="1.0"/>
<line x1="277.86" y1="17.60" x2="277.86" y2="21.60" stroke="#000" stroke-width="1.0"/>
<line x1="277.86" y1="317.50" x2="277.86" y2="313.50" stroke="#000" stroke-width="1.0"/>
<line x1="277.86" y1="317.50" x2="277.86" y2="320.00" stroke="#000" stroke-width="1.0"/>
<line x1="277.86" y1="477.60" x2="277.86" y2="475.10" stroke="#000" stroke-width="1.0"/>
<line x1="295.26" y1="17.60" x2="295.26" y2="25.60" stroke="#000" stroke-width="1.0"/>
<line x1="295.26" y1="317.50" x2="295.26" y2="309.50" stroke="#000" stroke-width="1.0"/>
<line x1="295.26" y1="317.50" x2="295.26" y2="322.50" stroke="#000" stroke-width="1.0"/>
<line x1="295.26" y1="477.60" x2="295.26" y2="472.60" stroke="#000" stroke-width="1.0"/>
<line x1="312.67" y1="17.60" x2="312.67" y2="21.60" stroke="#000" stroke-width="1.0"/>
<line x1="312.67" y1="317.50" x2="312.67" y2="313.50" stroke="#000" stroke-width="1.0"/>
<line x1="312.67" y1="317.50" x2="312.67" y2="320.00" stroke="#000" stroke-width="1.0"/>
<line x1="312.67" y1="477.60" x2="312.67" y2="475.10" stroke="#000" stroke-width="1.0"/>
<line x1="330.07" y1="17.60" x2="330.07" y2="21.60" stroke="#000" stroke-width="1.0"/>
<line x1="330.07" y1="317.50" x2="330.07" y2="313.50" stroke="#000" stroke-width="1.0"/>
<line x1="330.07" y1="317.50" x2="330.07" y2="320.00" stroke="#000" stroke-width="1.0"/>
<line x1="330.07" y1="477.60" x2="330.07" y2="475.10" stroke="#000" stroke-width="1.0"/>
<line x1="347.48" y1="17.60" x2="347.48" y2="21.60" stroke="#000" stroke-width="1.0"/>
<line x1="347.48" y1="317.50" x2="347.48" y2="313.50" stroke="#000" stroke-width="1.0"/>
<line x1="347.48" y1="317.50" x2="347.48" y2="320.00" stroke="#000" stroke-width="1.0"/>
<line x1="347.48" y1="477.60" x2="347.48" y2="475.10" stroke="#000" stroke-width="1.0"/>
<line x1="364.88" y1="17.60" x2="364.88" y2="25.60" stroke="#000" stroke-width="1.0"/>
<line x1="364.88" y1="317.50" x2="364.88" y2="309.50" stroke="#000" stroke-width="1.0"/>
<line x1="364.88" y1="317.50" x2="364.88" y2="322.50" stroke="#000" stroke-width="1.0"/>
<line x1="364.88" y1="477.60" x2="364.88" y2="472.60" stroke="#000" stroke-width="1.0"/>
<line x1="45.50" y1="317.30" x2="56.50" y2="317.30" stroke="#000" stroke-width="1.0"/>
<line x1="370.90" y1="317.30" x2="359.90" y2="317.30" stroke="#000" stroke-width="1.0"/>
<line x1="45.50" y1="306.84" x2="51.50" y2="306.84" stroke="#000" stroke-width="1.0"/>
<line x1="370.90" y1="306.84" x2="364.90" y2="306.84" stroke="#000" stroke-width="1.0"/>
<line x1="45.50" y1="296.37" x2="51.50" y2="296.37" stroke="#000" stroke-width="1.0"/>
<line x1="370.90" y1="296.37" x2="364.90" y2="296.37" stroke="#000" stroke-width="1.0"/>
<line x1="45.50" y1="285.91" x2="51.50" y2="285.91" stroke="#000" stroke-width="1.0"/>
<line x1="370.90" y1="285.91" x2="364.90" y2="285.91" stroke="#000" stroke-width="1.0"/>
<line x1="45.50" y1="275.44" x2="56.50" y2="275.44" stroke="#000" stroke-width="1.0"/>
<line x1="370.90" y1="275.44" x2="359.90" y2="275.44" stroke="#000" stroke-width="1.0"/>
<line x1="45.50" y1="264.98" x2="51.50" y2="264.98" stroke="#000" stroke-width="1.0"/>
<line x1="370.90" y1="264.98" x2="364.90" y2="264.98" stroke="#000" stroke-width="1.0"/>
<line x1="45.50" y1="254.51" x2="51.50" y2="254.51" stroke="#000" stroke-width="1.0"/>
<line x1="370.90" y1="254.51" x2="364.90" y2="254.51" stroke="#000" stroke-width="1.0"/>
<line x1="45.50" y1="244.05" x2="51.50" y2="244.05" stroke="#000" stroke-width="1.0"/>
<line x1="370.90" y1="244.05" x2="364.90" y2="244.05" stroke="#000" stroke-width="1.0"/>
<line x1="45.50" y1="233.58" x2="56.50" y2="233.58" stroke="#000" stroke-width="1.0"/>
<line x1="370.90" y1="233.58" x2="359.90" y2="233.58" stroke="#000" stroke-width="1.0"/>
<line x1="45.50" y1="223.12" x2="51.50" y2="223.12" stroke="#000" stroke-width="1.0"/>
<line x1="370.90" y1="223.12" x2="364.90" y2="223.12" stroke="#000" stroke-width="1.0"/>
<line x1="45.50" y1="212.65" x2="51.50" y2="212.65" stroke="#000" stroke-width="1.0"/>
<line x1="370.90" y1="212.65" x2="364.90" y2="212.65" stroke="#000" stroke-width="1.0"/>
<line x1="45.50" y1="202.19" x2="51.50" y2="202.19" stroke="#000" stroke-width="1.0"/>
<line x1="370.90" y1="202.19" x2="364.90" y2="202.19" stroke="#000" stroke-width="1.0"/>
<line x1="45.50" y1="191.72" x2="56.50" y2="191.72" stroke="#000" stroke-width="1.0"/>
<line x1="370.90" y1="191.72" x2="359.90" y2="191.72" stroke="#000" stroke-width="1.0"/>
<line x1="45.50" y1="181.25" x2="51.50" y2="181.25" stroke="#000" stroke-width="1.0"/>
<line x1="370.90" y1="181.25" x2="364.90" y2="181.25" stroke="#000" stroke-width="1.0"/>
<line x1="45.50" y1="170.79" x2="51.50" y2="170.79" stroke="#000" stroke-width="1.0"/>
<line x1="370.90" y1="170.79" x2="364.90" y2="170.79" stroke="#000" stroke-width="1.0"/>
<line x1="45.50" y1="160.32" x2="51.50" y2="160.32" stroke="#000" stroke-width="1.0"/>
<line x1="370.90" y1="160.32" x2="364.90" y2="160.32" stroke="#000" stroke-width="1.0"/>
<line x1="45.50" y1="149.86" x2="56.50" y2="149.86" stroke="#000" stroke-width="1.0"/>
<line x1="370.90" y1="149.86" x2="359.90" y2="149.86" stroke="#000" stroke-width="1.0"/>
<line x1="45.50" y1="139.39" x2="51.50" y2="139.39" stroke="#000" stroke-width="1.0"/>
<line x1="370.90" y1="139.39" x2="364.90" y2="139.39" stroke="#000" stroke-width="1.0"/>
<line x1="45.50" y1="128.93" x2="51.50" y2="128.93" stroke="#000" stroke-width="1.0"/>
<line x1="370.90" y1="128.93" x2="364.90" y2="128.93" stroke="#000" stroke-width="1.0"/>
<line x1="45.50" y1="118.46" x2="51.50" y2="118.46" stroke="#000" stroke-width="1.0"/>
<line x1="370.90" y1="118.46" x2="364.90" y2="118.46" stroke="#000" stroke-width="1.0"/>
<line x1="45.50" y1="108.00" x2="56.50" y2="108.00" stroke="#000" stroke-width="1.0"/>
<line x1="370.90" y1="108.00" x2="359.90" y2="108.00" stroke="#000" stroke-width="1.0"/>
<line x1="45.50" y1="97.53" x2="51.50" y2="97.53" stroke="#000" stroke-width="1.0"/>
<line x1="370.90" y1="97.53" x2="364.90" y2="97.53" stroke="#000" stroke-width="1.0"/>
<line x1="45.50" y1="87.07" x2="51.50" y2="87.07" stroke="#000" stroke-width="1.0"/>
<line x1="370.90" y1="87.07" x2="364.90" y2="87.07" stroke="#000" stroke-width="1.0"/>
<line x1="45.50" y1="76.60" x2="51.50" y2="76.60" stroke="#000" stroke-width="1.0"/>
<line x1="370.90" y1="76.60" x2="364.90" y2="76.60" stroke="#000" stroke-width="1.0"/>
<line x1="45.50" y1="66.14" x2="56.50" y2="66.14" stroke="#000" stroke-width="1.0"/>
<line x1="370.90" y1="66.14" x2="359.90" y2="66.14" stroke="#000" stroke-width="1.0"/>
<line x1="45.50" y1="55.68" x2="51.50" y2="55.68" stroke="#000" stroke-width="1.0"/>
<line x1="370.90" y1="55.68" x2="364.90" y2="55.68" stroke="#000" stroke-width="1.0"/>
<line x1="45.50" y1="45.21" x2="51.50" y2="45.21" stroke="#000" stroke-width="1.0"/>
<line x1="370.90" y1="45.21" x2="364.90" y2="45.21" stroke="#000" stroke-width="1.0"/>
<line x1="45.50" y1="34.75" x2="51.50" y2="34.75" stroke="#000" stroke-width="1.0"/>
<line x1="370.90" y1="34.75" x2="364.90" y2="34.75" stroke="#000" stroke-width="1.0"/>
<line x1="45.50" y1="24.28" x2="56.50" y2="24.28" stroke="#000" stroke-width="1.0"/>
<line x1="370.90" y1="24.28" x2="359.90" y2="24.28" stroke="#000" stroke-width="1.0"/>
<line x1="45.50" y1="477.60" x2="51.00" y2="477.60" stroke="#000" stroke-width="1.0"/>
<line x1="370.90" y1="477.60" x2="365.40" y2="477.60" stroke="#000" stroke-width="1.0"/>
<line x1="45.50" y1="458.11" x2="52.90" y2="458.11" stroke="#000" stroke-width="1.0"/>
<line x1="370.90" y1="458.11" x2="363.50" y2="458.11" stroke="#000" stroke-width="1.0"/>
<line x1="45.50" y1="442.18" x2="51.00" y2="442.18" stroke="#000" stroke-width="1.0"/>
<line x1="370.90" y1="442.18" x2="365.40" y2="442.18" stroke="#000" stroke-width="1.0"/>
<line x1="45.50" y1="428.71" x2="51.00" y2="428.71" stroke="#000" stroke-width="1.0"/>
<line x1="370.90" y1="428.71" x2="365.40" y2="428.71" stroke="#000" stroke-width="1.0"/>
<line x1="45.50" y1="417.04" x2="51.00" y2="417.04" stroke="#000" stroke-width="1.0"/>
<line x1="370.90" y1="417.04" x2="365.40" y2="417.04" stroke="#000" stroke-width="1.0"/>
<line x1="45.50" y1="406.75" x2="51.00" y2="406.75" stroke="#000" stroke-width="1.0"/>
<line x1="370.90" y1="406.75" x2="365.40" y2="406.75" stroke="#000" stroke-width="1.0"/>
<line x1="45.50" y1="397.55" x2="52.90" y2="397.55" stroke="#000" stroke-width="1.0"/>
<line x1="370.90" y1="397.55" x2="363.50" y2="397.55" stroke="#000" stroke-width="1.0"/>
<line x1="45.50" y1="389.22" x2="51.00" y2="389.22" stroke="#000" stroke-width="1.0"/>
<line x1="370.90" y1="389.22" x2="365.40" y2="389.22" stroke="#000" stroke-width="1.0"/>
<line x1="45.50" y1="381.62" x2="51.00" y2="381.62" stroke="#000" stroke-width="1.0"/>
<line x1="370.90" y1="381.62" x2="365.40" y2="381.62" stroke="#000" stroke-width="1.0"/>
<line x1="45.50" y1="374.63" x2="51.00" y2="374.63" stroke="#000" stroke-width="1.0"/>
<line x1="370.90" y1="374.63" x2="365.40" y2="374.63" stroke="#000" stroke-width="1.0"/>
<line x1="45.50" y1="368.15" x2="51.00" y2="368.15" stroke="#000" stroke-width="1.0"/>
<line x1="370.90" y1="368.15" x2="365.40" y2="368.15" stroke="#000" stroke-width="1.0"/>
<line x1="45.50" y1="362.13" x2="52.90" y2="362.13" stroke="#000" stroke-width="1.0"/>
<line x1="370.90" y1="362.13" x2="363.50" y2="362.13" stroke="#000" stroke-width="1.0"/>
<line x1="45.50" y1="356.49" x2="51.00" y2="356.49" stroke="#000" stroke-width="1.0"/>
<line x1="370.90" y1="356.49" x2="365.40" y2="356.49" stroke="#000" stroke-width="1.0"/>
<line x1="45.50" y1="351.19" x2="51.00" y2="351.19" stroke="#000" stroke-width="1.0"/>
<line x1="370.90" y1="351.19" x2="365.40" y2="351.19" stroke="#000" stroke-width="1.0"/>
<line x1="45.50" y1="346.20" x2="51.00" y2="346.20" stroke="#000" stroke-width="1.0"/>
<line x1="370.90" y1="346.20" x2="365.40" y2="346.20" stroke="#000" stroke-width="1.0"/>
<line x1="45.50" y1="341.48" x2="51.00" y2="341.48" stroke="#000" stroke-width="1.0"/>
<line x1="370.90" y1="341.48" x2="365.40" y2="341.48" stroke="#000" stroke-width="1.0"/>
<line x1="45.50" y1="336.99" x2="52.90" y2="336.99" stroke="#000" stroke-width="1.0"/>
<line x1="370.90" y1="336.99" x2="363.50" y2="336.99" stroke="#000" stroke-width="1.0"/>
<line x1="45.50" y1="332.73" x2="51.00" y2="332.73" stroke="#000" stroke-width="1.0"/>
<line x1="370.90" y1="332.73" x2="365.40" y2="332.73" stroke="#000" stroke-width="1.0"/>
<line x1="45.50" y1="328.67" x2="51.00" y2="328.67" stroke="#000" stroke-width="1.0"/>
<line x1="370.90" y1="328.67" x2="365.40" y2="328.67" stroke="#000" stroke-width="1.0"/>
<line x1="45.50" y1="324.78" x2="51.00" y2="324.78" stroke="#000" stroke-width="1.0"/>
<line x1="370.90" y1="324.78" x2="365.40" y2="324.78" stroke="#000" stroke-width="1.0"/>
<line x1="45.50" y1="321.07" x2="51.00" y2="321.07" stroke="#000" stroke-width="1.0"/>
<line x1="370.90" y1="321.07" x2="365.40" y2="321.07" stroke="#000" stroke-width="1.0"/>
<line x1="45.50" y1="317.50" x2="51.00" y2="317.50" stroke="#000" stroke-width="1.0"/>
<line x1="370.90" y1="317.50" x2="365.40" y2="317.50" stroke="#000" stroke-width="1.0"/>
<defs><clipPath id="clipT"><rect x="45.5" y="17.6" width="325.4" height="299.9"/></clipPath><clipPath id="clipR"><rect x="45.5" y="317.5" width="325.4" height="160.10000000000002"/></clipPath></defs>
<g font-family="Liberation Sans, sans-serif">
<text x="51" y="14.6" font-size="12.1" text-anchor="start" fill="#000" >900 GeV pp</text>
<text x="367" y="14.6" font-size="12" text-anchor="end" fill="#000" >Underlying Event</text>
<text x="41.5" y="280.54" font-size="11.5" text-anchor="end" fill="#000" >0.2</text>
<text x="41.5" y="238.68" font-size="11.5" text-anchor="end" fill="#000" >0.4</text>
<text x="41.5" y="196.82" font-size="11.5" text-anchor="end" fill="#000" >0.6</text>
<text x="41.5" y="154.96" font-size="11.5" text-anchor="end" fill="#000" >0.8</text>
<text x="41.5" y="113.1" font-size="11.5" text-anchor="end" fill="#000" >1</text>
<text x="41.5" y="71.24" font-size="11.5" text-anchor="end" fill="#000" >1.2</text>
<text x="41.5" y="29.38" font-size="11.5" text-anchor="end" fill="#000" >1.4</text>
<text x="41.5" y="322.4" font-size="11.5" text-anchor="end" fill="#000" >0</text>
<rect x="0" y="318.1" width="44.9" height="160.10000000000002" fill="#fff"/>
<text x="38.8" y="462.11" font-size="11.5" text-anchor="end" fill="#000" >0.5</text>
<text x="38.8" y="401.55" font-size="11.5" text-anchor="end" fill="#000" >1</text>
<text x="38.8" y="340.99" font-size="11.5" text-anchor="end" fill="#000" >2</text>
<text x="373.6" y="462.11" font-size="11.2" text-anchor="start" fill="#000" >0.5</text>
<text x="373.6" y="401.55" font-size="11.2" text-anchor="start" fill="#000" >1</text>
<text x="373.6" y="340.99" font-size="11.2" text-anchor="start" fill="#000" >2</text>
<text x="86.7" y="489" font-size="11.5" text-anchor="middle" fill="#000" >2</text>
<text x="156.32" y="489" font-size="11.5" text-anchor="middle" fill="#000" >4</text>
<text x="225.94" y="489" font-size="11.5" text-anchor="middle" fill="#000" >6</text>
<text x="295.56" y="489" font-size="11.5" text-anchor="middle" fill="#000" >8</text>
<text x="365.18" y="489" font-size="11.5" text-anchor="middle" fill="#000" >10</text>
</g>
<g font-family="Liberation Sans, sans-serif">
<text x="104.3" y="41.7" font-size="12">Average</text>
<text x="151.2" y="41.7" font-size="11.5">Σ</text>
<text x="158.4" y="42.0" font-size="10">(p</text>
<text x="167.0" y="47.6" font-size="6.5">T</text>
<text x="172.6" y="42.0" font-size="10">)</text>
<text x="177.2" y="42.0" font-size="10">vs</text>
<text x="190.6" y="42.0" font-size="10">p</text>
<text x="195.4" y="47.6" font-size="6.5">T</text>
<text x="195.0" y="36.6" font-size="6.6">lead</text>
<text x="211.0" y="42.0" font-size="10">(|η| &lt; 2.5, p</text>
<text x="259.9" y="47.6" font-size="6.5">T</text>
<text x="266.6" y="42.0" font-size="10">&gt; 0.5 GeV)</text>
<text x="94.0" y="64.9" font-size="9.5" text-anchor="start" fill="#000" >ATLAS</text>
<text x="94.0" y="77.8" font-size="9.5" text-anchor="start" fill="#000" >Herwig 7.2.1 default</text>
<text x="94.0" y="90.7" font-size="9.5" text-anchor="start" fill="#000" >Pythia 6.428 370</text>
<text x="94.0" y="103.6" font-size="9.5" text-anchor="start" fill="#000" >Pythia 8.212 default</text>
<text x="94.0" y="116.5" font-size="9.5" text-anchor="start" fill="#000" >Sherpa 2.2.9 default</text>
</g>
<rect x="73.60" y="59.10" width="5.8" height="5.8" fill="#000"/>
<line x1="64.00" y1="75.00" x2="88.90" y2="75.00" stroke="#3d9b1f" stroke-width="1.0" stroke-dasharray="3,2"/>
<rect x="73.7" y="72.2" width="5.6" height="5.6" fill="#fff"/>
<rect x="74.15" y="72.65" width="4.7" height="4.7" fill="none" stroke="#3d9b1f" stroke-width="1.1"/>
<line x1="64.00" y1="88.20" x2="88.90" y2="88.20" stroke="#a3243b" stroke-width="1.0"/>
<path d="M76.50,85.47 L79.15,90.97 L73.85,90.97 Z" fill="none" stroke="#a3243b" stroke-width="1.1"/>
<line x1="64.00" y1="101.20" x2="88.90" y2="101.20" stroke="#0000ff" stroke-width="1.0"/>
<path d="M76.50,98.23 L79.50,103.63 L73.50,103.63 Z" fill="#0000ff"/>
<line x1="64.00" y1="114.10" x2="88.90" y2="114.10" stroke="#ff0000" stroke-width="1.0" stroke-dasharray="1.0,1.1"/>
<path d="M76.50,110.60 L78.70,114.10 L76.50,117.60 L74.30,114.10 Z" fill="#ff0000"/>
<g font-family="Liberation Sans, sans-serif">
<text x="163.5" y="302.2" font-size="7.9" text-anchor="start" fill="#a8a8a8" >ATLAS_2010_S8894728</text>
<text transform="translate(379.9,129.3) rotate(-90)" font-size="8.7" fill="#808080">Rivet 3.1.10,</text>
<text transform="translate(379.9,76.6) rotate(-90)" font-size="9" fill="#808080">≥</text>
<text transform="translate(379.9,67.2) rotate(-90)" font-size="9.1" fill="#808080">400k events</text>
<text transform="translate(381.2,314.4) rotate(-90)" font-size="9.3" fill="#808080">mcplots.cern.ch</text>
<text transform="translate(381.2,244.3) rotate(-90)" font-size="9.5" fill="#808080">[arXiv:1306.3436]</text>
<path d="M6.2,134.9 L11.3,138.6 L16.4,134.9" fill="none" stroke="#222" stroke-width="0.9"/>
<text transform="translate(15.6,134.2) rotate(-90)" font-size="11.5" fill="#000">d</text>
<text transform="translate(8.2,128.6) rotate(-90)" font-size="7.5" fill="#000">2</text>
<text transform="translate(15.6,121.8) rotate(-90)" font-size="11.5" fill="#000">sum</text>
<text transform="translate(15.6,95.2) rotate(-90)" font-size="11.5" fill="#000">p</text>
<text transform="translate(21.6,88.8) rotate(-90)" font-size="7.5" fill="#000">T</text>
<text transform="translate(15.4,84.0) rotate(-90)" font-size="11.5" fill="#000">/</text>
<text transform="translate(15.4,79.9) rotate(-90)" font-size="11.5" fill="#000">d</text>
<text transform="translate(15.4,73.7) rotate(-90)" font-size="11.5" fill="#000">η</text>
<text transform="translate(15.4,67.1) rotate(-90)" font-size="11.5" fill="#000">d</text>
<text transform="translate(15.4,60.3) rotate(-90)" font-size="11.0" fill="#000">ϕ</text>
<path d="M6.6,53.4 L11.8,50.3 L17.0,53.4" fill="none" stroke="#222" stroke-width="0.9"/>
<text transform="translate(15.6,46.8) rotate(-90)" font-size="11.8" fill="#000">[GeV]</text>
<text transform="translate(18.0,427.5) rotate(-90)" font-size="9">Ratio to ATLAS</text>
<text x="243" y="500.9" font-size="12.7">p</text>
<text x="249.9" y="507.4" font-size="8.5">T</text>
<text x="257.6" y="500.9" font-size="12.9">(leading track) [GeV]</text>
</g>
</svg></body></html>
